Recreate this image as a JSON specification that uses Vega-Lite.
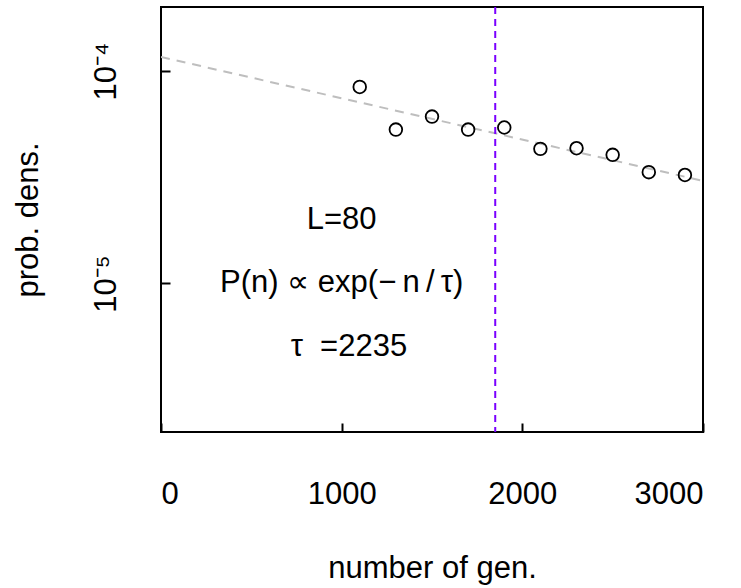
{
  "$schema": "https://vega.github.io/schema/vega-lite/v6.json",
  "width": 542,
  "height": 425,
  "autosize": {"type": "none"},
  "padding": {"left": 161, "top": 7, "right": 38, "bottom": 156},
  "background": "white",
  "config": {
    "view": {"stroke": "black", "strokeWidth": 2},
    "font": "Liberation Sans",
    "axis": {"grid": false, "domain": false, "tickColor": "black", "tickWidth": 2, "tickSize": 9, "offset": -9, "labelColor": "black", "titleColor": "black", "labelFontSize": 31, "titleFontSize": 31, "titleFontWeight": "normal", "labelFont": "Liberation Sans", "titleFont": "Liberation Sans"}
  },
  "datasets": {
    "points": [
      {"n": 1100, "p": 8.41e-5},
      {"n": 1300, "p": 5.30e-5},
      {"n": 1500, "p": 6.10e-5},
      {"n": 1700, "p": 5.30e-5},
      {"n": 1900, "p": 5.42e-5},
      {"n": 2100, "p": 4.30e-5},
      {"n": 2300, "p": 4.33e-5},
      {"n": 2500, "p": 4.03e-5},
      {"n": 2700, "p": 3.34e-5},
      {"n": 2900, "p": 3.24e-5}
    ],
    "fit": [
      {"n": 0, "p": 1.164e-4},
      {"n": 3000, "p": 3.04e-5}
    ],
    "vline": [{"n": 1850}],
    "notes": [
      {"n": 1000, "p": 2e-5, "label": "L=80"},
      {"n": 1000, "p": 1e-5, "label": "P(n) ∝ exp(−\u2009n\u2009/\u2009τ)"},
      {"n": 1040, "p": 5e-6, "label": "τ\u00a0\u00a0=2235"}
    ]
  },
  "layer": [
    {
      "data": {"name": "fit"},
      "mark": {"type": "line", "color": "#BEBEBE", "strokeWidth": 2, "strokeDash": [9, 7], "clip": true},
      "encoding": {
        "x": {
          "field": "n", "type": "quantitative",
          "scale": {"domain": [0, 3000], "nice": false, "zero": false},
          "axis": {"values": [0, 1000, 2000, 3000], "format": "d", "labelPadding": 47, "title": "number of gen.", "titlePadding": 44}
        },
        "y": {
          "field": "p", "type": "quantitative",
          "scale": {"type": "log", "domain": [2e-6, 2e-4], "nice": false},
          "axis": {"values": [1e-5, 1e-4], "labelExpr": "datum.value < 5e-5 ? '10⁻⁵' : '10⁻⁴'", "labelAngle": -90, "labelAlign": "center", "labelBaseline": "alphabetic", "labelPadding": 46, "title": "prob. dens.", "titlePadding": 46}
        }
      }
    },
    {
      "data": {"name": "vline"},
      "mark": {"type": "rule", "color": "#7A00FF", "strokeWidth": 2, "strokeDash": [7, 5]},
      "encoding": {"x": {"field": "n", "type": "quantitative"}}
    },
    {
      "data": {"name": "points"},
      "mark": {"type": "point", "shape": "circle", "filled": false, "color": "black", "strokeWidth": 1.8, "size": 160, "opacity": 1},
      "encoding": {
        "x": {"field": "n", "type": "quantitative"},
        "y": {"field": "p", "type": "quantitative"}
      }
    },
    {
      "data": {"name": "notes"},
      "mark": {"type": "text", "fontSize": 31, "font": "Liberation Sans", "color": "black", "align": "center", "baseline": "middle"},
      "encoding": {
        "x": {"field": "n", "type": "quantitative"},
        "y": {"field": "p", "type": "quantitative"},
        "text": {"field": "label"}
      }
    }
  ]
}
